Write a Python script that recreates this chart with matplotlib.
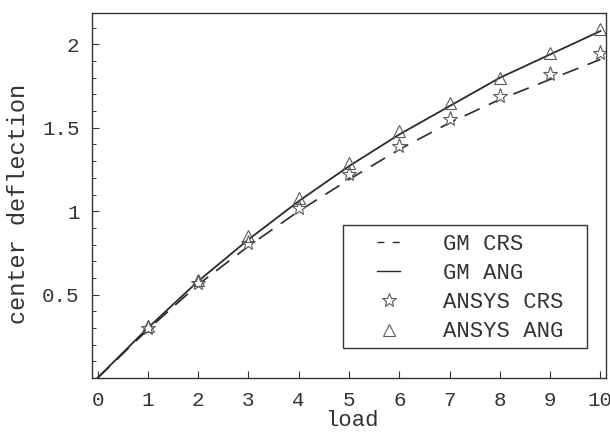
import matplotlib
matplotlib.use("Agg")
import matplotlib.pyplot as plt
from matplotlib.lines import Line2D
from matplotlib.patches import Rectangle
from matplotlib.ticker import FixedLocator, FixedFormatter

# === 資料 ===
load = [0, 1, 2, 3, 4, 5, 6, 7, 8, 9, 10]
gm_crs = [0, 0.29, 0.56, 0.79, 1.00, 1.19, 1.37, 1.53, 1.67, 1.79, 1.91]
gm_ang = [0, 0.30, 0.58, 0.83, 1.06, 1.27, 1.46, 1.63, 1.80, 1.94, 2.08]

ansys_load = [1, 2, 3, 4, 5, 6, 7, 8, 9, 10]
ansys_crs = [0.30, 0.57, 0.81, 1.02, 1.22, 1.39, 1.55, 1.69, 1.82, 1.95]
ansys_ang = [0.31, 0.59, 0.85, 1.08, 1.29, 1.48, 1.65, 1.80, 1.95, 2.09]

x_ticks = [0, 1, 2, 3, 4, 5, 6, 7, 8, 9, 10]
y_ticks = [0.5, 1, 1.5, 2]
y_tick_labels = ["0.5", "1", "1.5", "2"]
series_labels = ["GM CRS", "GM ANG", "ANSYS CRS", "ANSYS ANG"]

FONT = "Liberation Mono"
TEXT_C = "#333333"
LINE_C = "#2b2b2b"
MARK_C = "#5a5a5a"

fig = plt.figure(figsize=(6.1, 4.32), dpi=100)
ax = fig.add_axes([0.1508, 0.125, 0.8426, 0.8456])

# 曲線
ax.plot(load, gm_crs, color=LINE_C, linewidth=1.2, dashes=(10, 6))
ax.plot(load, gm_ang, color=LINE_C, linewidth=1.3)
# ANSYS 點
ax.plot(ansys_load, ansys_crs, linestyle="none", marker="*", markersize=11,
        markerfacecolor="white", markeredgecolor=MARK_C, markeredgewidth=0.8)
ax.plot(ansys_load, ansys_ang, linestyle="none", marker="^", markersize=9,
        markerfacecolor="none", markeredgecolor=MARK_C, markeredgewidth=0.8)

ax.set_xlim(-0.11, 10.11)
ax.set_ylim(0, 2.19)

# 刻度
ax.xaxis.set_major_locator(FixedLocator(x_ticks))
ax.yaxis.set_major_locator(FixedLocator(y_ticks))
ax.yaxis.set_major_formatter(FixedFormatter(y_tick_labels))
ax.yaxis.set_minor_locator(FixedLocator([i / 10 for i in range(1, 22) if i % 5 != 0]))
ax.tick_params(which="both", direction="in", top=False, right=False, color=TEXT_C)
ax.tick_params(which="major", length=5, width=0.8, pad=9)
ax.tick_params(which="minor", length=3, width=0.7)
for lab in ax.get_xticklabels() + ax.get_yticklabels():
    lab.set_fontfamily(FONT)
    lab.set_fontsize(15)
    lab.set_color(TEXT_C)

for sp in ax.spines.values():
    sp.set_linewidth(1.0)
    sp.set_color(TEXT_C)

ax.set_xlabel("load", fontfamily=FONT, fontsize=16, color=TEXT_C)
ax.set_ylabel("center deflection", fontfamily=FONT, fontsize=17, color=TEXT_C)
ax.xaxis.set_label_coords(0.506, -0.088)
ax.yaxis.set_label_coords(-0.121, 0.476)

# 圖例 (外框另畫)
ax.add_patch(Rectangle((0.4877, 0.0813), 0.4759, 0.3375, transform=ax.transAxes,
                       facecolor="white", edgecolor=TEXT_C, linewidth=1.0, zorder=4))
handles = [
    Line2D([], [], color=LINE_C, linewidth=1.0, dashes=(5, 6)),
    Line2D([], [], color=LINE_C, linewidth=1.0),
    Line2D([], [], linestyle="none", marker="*", markersize=10,
           markerfacecolor="white", markeredgecolor=MARK_C, markeredgewidth=0.8),
    Line2D([], [], linestyle="none", marker="^", markersize=8,
           markerfacecolor="none", markeredgecolor=MARK_C, markeredgewidth=0.8),
]
leg = ax.legend(handles, series_labels, loc="upper left",
                bbox_to_anchor=(0.5545, 0.395),
                prop={"family": FONT, "size": 16}, frameon=False,
                borderpad=0, labelspacing=0.37, handlelength=1.05,
                handletextpad=1.9, borderaxespad=0)
leg.set_zorder(5)
for t in leg.get_texts():
    t.set_color(TEXT_C)

fig.savefig("out.png", dpi=100)
